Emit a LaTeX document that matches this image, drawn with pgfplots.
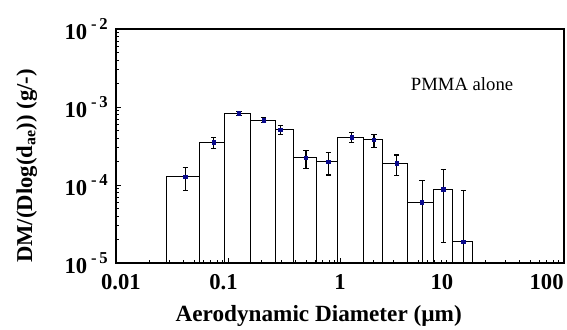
\documentclass[border=0pt]{standalone}
\usepackage{fontspec}
\setmainfont{Liberation Serif}
\usepackage{pgfplots}
\pgfplotsset{compat=1.18}
\definecolor{dotblue}{RGB}{10,10,140}
\newcommand{\sh}[2]{\makebox[0pt]{\hspace*{#1}#2}}
\newcommand{\pw}[1]{10\,\raisebox{0.42em}{\fontsize{12.5}{12.5}\selectfont -\,#1}}
\begin{document}
\begin{tikzpicture}
\begin{axis}[
  at={(87pt,49.5pt)}, anchor=south west,
  scale only axis, width=336pt, height=175.5pt,
  xmode=log, ymode=log,
  xmin=0.01, xmax=100, ymin=1e-5, ymax=1e-2,
  log origin y=infty,
  axis on top=true,
  axis line style={line width=1.1pt},
  tick align=inside,
  xtick pos=lower, ytick pos=left,
  major tick length=4pt, minor tick length=2.2pt,
  every tick/.style={black, line width=0.6pt},
  xtick={0.01,0.1,1,10,100},
  xticklabels={\sh{7.5pt}{0.01},\sh{-6.8pt}{0.1},\sh{0pt}{1},\sh{-15pt}{10},\sh{-26pt}{100}},
  ytick={1e-5,1e-4,1e-3,1e-2},
  yticklabels={\pw{5},\pw{4},\pw{3},\pw{2}},
  tick label style={font=\fontsize{17}{17}\selectfont\bfseries, inner sep=0pt},
  xticklabel style={anchor=north, yshift=-8.5pt},
  yticklabel style={anchor=east, xshift=-6pt},
  xlabel={\fontsize{17.4}{17.4}\selectfont\bfseries Aerodynamic Diameter (\textmu m)},
  xlabel style={at={(rel axis cs:0.4525,0)}, anchor=base, yshift=-44pt, inner sep=0pt},
  ylabel={\fontsize{17}{17}\selectfont\bfseries DM/(Dlog(d\textsubscript{ae})) (g/-)},
  ylabel style={at={(rel axis cs:0,0.415)}, anchor=center, yshift=67pt, inner sep=0pt},
  clip=true,
]
% histogram bars (bin edges, heights)
\addplot[ybar interval, fill=white, draw=black, line width=0.75pt] coordinates {
  (0.0284,1.27e-4) (0.0554,3.51e-4) (0.094,8.35e-4) (0.1595,6.79e-4)
  (0.263,5.09e-4) (0.386,2.23e-4) (0.619,1.98e-4) (0.953,4.11e-4)
  (1.61,3.79e-4) (2.42,1.89e-4) (4.02,6.01e-5) (6.81,8.83e-5)
  (10.1,1.86e-5) (15.2,1.86e-5)
};
% error bars (thick)
\addplot[only marks, mark=square*, mark size=1.3pt, color=dotblue,
  error bars/.cd, y dir=both, y explicit,
  error bar style={black, line width=0.9pt},
  error mark options={black, line width=0.9pt, mark size=2pt, rotate=90}]
  coordinates {
  (0.0416,1.27e-4) += (0,4.1e-5) -= (0,4.12e-5)
  (0.0745,3.51e-4) += (0,5.1e-5) -= (0,5.7e-5)
  (0.125,8.35e-4) += (0,5.1e-5) -= (0,5.5e-5)
  (0.208,6.79e-4) += (0,4.8e-5) -= (0,4.5e-5)
  (0.293,5.09e-4) += (0,7.1e-5) -= (0,6.4e-5)
  (0.497,2.23e-4) += (0,5.7e-5) -= (0,6.0e-5)
  (0.787,1.98e-4) += (0,6.3e-5) -= (0,6.4e-5)
  (1.27,4.11e-4) += (0,5.6e-5) -= (0,5.7e-5)
  (2.01,3.79e-4) += (0,6.6e-5) -= (0,7.6e-5)
  (3.21,1.89e-4) += (0,5.4e-5) -= (0,5.7e-5)
};
% error bars (thin)
\addplot[only marks, mark=square*, mark size=1.3pt, color=dotblue,
  error bars/.cd, y dir=both, y explicit,
  error bar style={black, line width=0.5pt},
  error mark options={black, line width=0.5pt, mark size=2pt, rotate=90}]
  coordinates {
  (5.4,6.01e-5) += (0,5.5e-5) -= (0,5.5e-5)
  (8.36,8.83e-5) += (0,7.2e-5) -= (0,7.0e-5)
  (12.6,1.86e-5) += (0,6.8e-5) -= (0,1.36e-5)
};
\node[font=\fontsize{14}{14}\selectfont, anchor=center] at (axis cs:12.3,1.97e-3) {PMMA alone};
\end{axis}
\pgfresetboundingbox
\path (0,0) rectangle (425.25pt,246.75pt);
\end{tikzpicture}
\end{document}
